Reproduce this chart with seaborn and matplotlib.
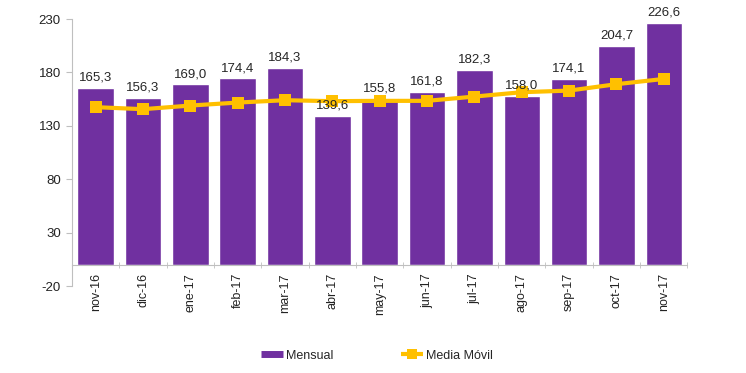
import matplotlib
matplotlib.use('Agg')
import matplotlib.pyplot as plt
from matplotlib.lines import Line2D
import seaborn as sns
import pandas as pd
import numpy as np

# datos
meses = ['nov-16', 'dic-16', 'ene-17', 'feb-17', 'mar-17', 'abr-17', 'may-17',
         'jun-17', 'jul-17', 'ago-17', 'sep-17', 'oct-17', 'nov-17']
mensual = [165.3, 156.3, 169.0, 174.4, 184.3, 139.6, 155.8,
           161.8, 182.3, 158.0, 174.1, 204.7, 226.6]
media_movil = [147.5, 145.6, 149.0, 151.8, 154.0, 153.1, 153.4,
               153.4, 157.4, 161.5, 163.0, 169.0, 173.9]
yticks = [-20, 30, 80, 130, 180, 230]

morado = '#7030A0'
amarillo = '#FFC000'

sns.set_style('white')
plt.rcParams['font.family'] = ['Liberation Sans', 'DejaVu Sans']

df = pd.DataFrame({'mes': meses, 'mensual': mensual, 'media': media_movil})

fig = plt.figure(figsize=(7.46, 3.73), dpi=100)
ax = fig.add_axes([0.0965, 0.233, 0.825, 0.716])

sns.barplot(data=df, x='mes', y='mensual', color=morado, saturation=1,
            width=0.77, ax=ax)
sns.lineplot(x=np.arange(len(meses)), y=df['media'], color=amarillo, lw=3,
             marker='s', markersize=9, markeredgewidth=0, ax=ax)

etiquetas = [f'{v:.1f}'.replace('.', ',') for v in mensual]
ax.bar_label(ax.containers[0], labels=etiquetas, padding=3, fontsize=9.5)

ax.set_ylim(-20, 230)
ax.set_yticks(yticks)
ax.set_yticklabels([str(t) for t in yticks], fontsize=9.5, color='#222222')
ax.set_xlim(-0.5, len(meses) - 0.5)
ax.set_xlabel('')
ax.set_ylabel('')

for s in ['top', 'right']:
    ax.spines[s].set_visible(False)
ax.spines['left'].set_color('#BFBFBF')
ax.spines['bottom'].set_color('#BFBFBF')
ax.spines['bottom'].set_position(('data', 0))

ax.tick_params(axis='y', left=True, length=4, color='#BFBFBF', pad=4)
ax.set_xticks(np.arange(len(meses)))
ax.set_xticklabels(meses, rotation=90, fontsize=9, color='#222222')
ax.tick_params(axis='x', which='major', length=0, pad=6)
ax.set_xticks(np.arange(len(meses) + 1) - 0.5, minor=True)
ax.tick_params(axis='x', which='minor', bottom=True, length=5,
               direction='inout', color='#BFBFBF')

handles = [Line2D([0], [0], color=morado, lw=5, solid_capstyle='butt'),
           Line2D([0], [0], color=amarillo, lw=3, marker='s', markersize=7,
                  markeredgewidth=0, solid_capstyle='butt')]
fig.legend(handles, ['Mensual', 'Media Móvil'], loc='lower center',
           bbox_to_anchor=(0.505, 0.0), ncol=2, frameon=False, fontsize=9,
           handlelength=1.8, handletextpad=0.2, columnspacing=5.4)

fig.savefig('out.png', dpi=100)
